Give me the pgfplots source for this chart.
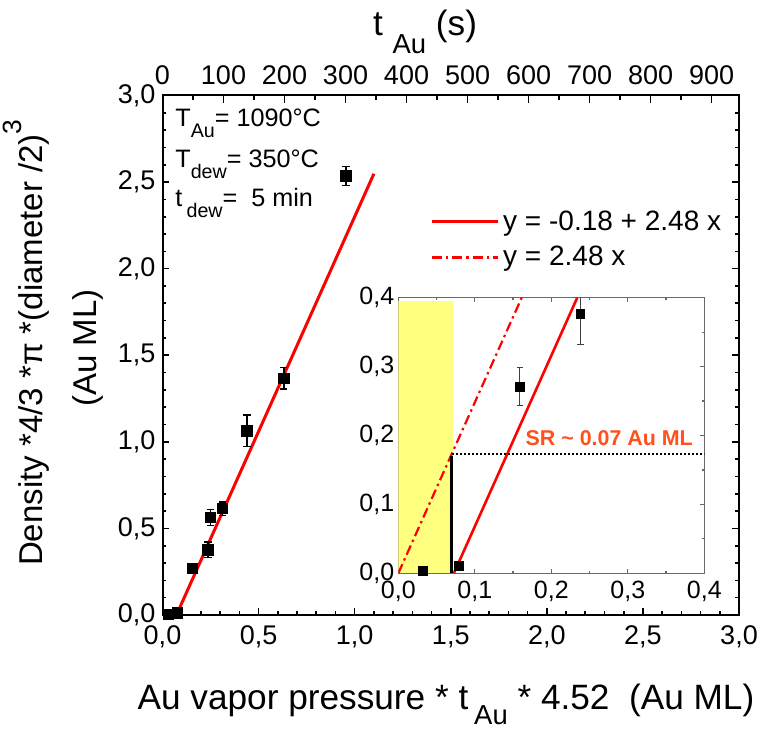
\documentclass[border=0pt]{standalone}
\usepackage{fontspec}
\setmainfont{Liberation Sans}
\usepackage{graphicx}
\usepackage{pgfplots}
\pgfplotsset{compat=1.18}
\definecolor{srcol}{RGB}{255,80,30}
\definecolor{yel}{RGB}{255,255,128}
\definecolor{insetgray}{RGB}{105,105,105}
\newcommand{\sub}[2][0.45em]{\raisebox{-#1}{\scalebox{0.78}{#2}}}
\pgfplotstableread{
x y e
0.032 0.004 0
0.079 0.011 0.006
0.157 0.270 0.027
0.237 0.377 0.045
0.249 0.562 0.046
0.313 0.614 0.039
0.440 1.064 0.091
0.631 1.367 0.062
0.955 2.535 0.054
}\maindata
\pgfplotstableread{
x y e
0.032 0.004 0
0.079 0.011 0.006
0.159 0.271 0.027
0.238 0.377 0.045
}\insetdata
\begin{document}
\begin{tikzpicture}
\useasboundingbox (-81.25pt,-59pt) rectangle (298.25pt,307.5pt);
% main axis
\begin{axis}[
  name=main,
  at={(0,0)}, anchor=south west,
  scale only axis, width=288.25pt, height=259.75pt,
  xmin=0, xmax=3, ymin=0, ymax=3,
  xtick={0,0.5,1,1.5,2,2.5,3}, ytick={0,0.5,1,1.5,2,2.5,3},
  minor x tick num=4, minor y tick num=4,
  tick align=inside,
  xtick pos=left, xticklabel pos=left,
  ytick pos=both, yticklabel pos=left,
  major tick length=3.5pt, minor tick length=1.8pt,
  axis line style={line width=1pt},
  every tick/.style={black, line width=0.8pt},
  tick label style={font=\fontsize{13.5}{15}\selectfont},
  xticklabel style={yshift=-1.8pt},
  /pgf/number format/use comma,
  /pgf/number format/fixed,
  /pgf/number format/fixed zerofill,
  /pgf/number format/precision=1,
  /pgf/number format/assume math mode=true,
  clip=false,
  legend style={at={(0.4637,0.787)}, anchor=north west, draw=none, fill=none,
    inner sep=0pt, font=\fontsize{14}{16}\selectfont, row sep=2.5pt,
    /tikz/every even column/.append style={column sep=5.5pt}},
  legend cell align=left,
  legend image code/.code={\draw[#1] (0pt,0pt) -- (33pt,0pt);},
]
\addplot[red, line width=1.5pt] coordinates {(0.0726,0) (1.1,2.548)};
\addlegendentry{y = -0.18 + 2.48 x}
\addlegendimage{red, line width=1.2pt, dash pattern=on 5pt off 2pt on 1.2pt off 2pt}
\addlegendentry{y = 2.48 x}
\addplot[forget plot, only marks, mark=square*, mark size=2.6pt, black,
  error bars/.cd, y dir=both, y explicit,
  error bar style={line width=0.75pt, black},
  error mark options={rotate=90, mark size=1.8pt, line width=0.75pt, black}]
  table[x=x, y=y, y error=e] {\maindata};
\end{axis}
% top axis
\begin{axis}[
  at={(0,0)}, anchor=south west,
  scale only axis, width=288.25pt, height=259.75pt,
  xmin=0, xmax=945, ymin=0, ymax=1,
  axis x line*=top, axis y line=none,
  xtick={0,100,200,300,400,500,600,700,800,900},
  minor x tick num=1,
  tick align=inside,
  major tick length=4pt, minor tick length=2.5pt,
  axis line style={line width=1pt},
  every tick/.style={black, line width=0.8pt},
  tick label style={font=\fontsize{13.5}{15}\selectfont},
  xticklabel style={yshift=1.8pt},
  /pgf/number format/fixed,
  /pgf/number format/precision=0,
  /pgf/number format/1000 sep={},
  /pgf/number format/assume math mode=true,
]
\addplot[draw=none, forget plot] coordinates {(0,0) (900,1)};
\end{axis}
% inset
\begin{axis}[
  at={(117.9pt,20.85pt)}, anchor=south west,
  scale only axis, width=153pt, height=137.8pt,
  xmin=0, xmax=0.4, ymin=0, ymax=0.4,
  xtick={0,0.1,0.2,0.3,0.4}, ytick={0,0.1,0.2,0.3,0.4},
  minor x tick num=1, minor y tick num=1,
  tick align=inside,
  xtick pos=both, ytick pos=both, xticklabel pos=left, yticklabel pos=left,
  major tick length=2.2pt, minor tick length=1.1pt,
  axis line style={insetgray, line width=0.75pt},
  every tick/.style={insetgray, line width=0.6pt},
  axis background/.style={fill=white},
  tick label style={font=\fontsize{12.5}{14}\selectfont},
  xticklabel style={yshift=-0.5pt},
  yticklabel style={xshift=1.5pt},
  /pgf/number format/use comma,
  /pgf/number format/fixed,
  /pgf/number format/fixed zerofill,
  /pgf/number format/precision=1,
  /pgf/number format/assume math mode=true,
]
\addplot[draw=none, fill=yel] coordinates {(0,0.395) (0.0711,0.395)} \closedcycle;
\addplot[red, line width=1.1pt, dash pattern=on 5pt off 2pt on 1.2pt off 2pt] coordinates {(0,0) (0.1613,0.4)};
\addplot[red, line width=1.3pt] coordinates {(0.0726,0) (0.2339,0.4)};
\addplot[black, line width=1.4pt] coordinates {(0.07,0) (0.07,0.17)};
\addplot[black, line width=0.9pt, dash pattern=on 0.9pt off 1.1pt] coordinates {(0.07,0.1736) (0.4,0.1736)};
\addplot[only marks, mark=square*, mark size=2.2pt, black,
  error bars/.cd, y dir=both, y explicit,
  error bar style={line width=0.5pt, black!75},
  error mark options={rotate=90, mark size=1.7pt, line width=0.5pt, black!75}]
  table[x=x, y=y, y error=e] {\insetdata};
\node[anchor=base west, font=\bfseries\fontsize{10.7}{12}\selectfont, text=srcol, inner sep=0pt]
  at (axis cs:0.166,0.186) {SR \textasciitilde\ 0.07 Au ML};
\end{axis}
% texts
\node[anchor=base west, font=\fontsize{12.6}{14}\selectfont, inner sep=0pt] at (6.25pt,244pt) {T\sub[0.43em]{Au}= 1090°C};
\node[anchor=base west, font=\fontsize{12.6}{14}\selectfont, inner sep=0pt] at (6.25pt,223.5pt) {T\sub[0.43em]{dew}= 350°C};
\node[anchor=base west, font=\fontsize{12.6}{14}\selectfont, inner sep=0pt] at (6.25pt,204pt) {t\,\sub[0.43em]{dew}=\ \ 5 min};
\node[anchor=base, font=\fontsize{17.6}{20}\selectfont, inner sep=0pt] at (131.25pt,289.5pt) {t \sub[0.5em]{Au} (s)};
\node[anchor=base, font=\fontsize{17.6}{20}\selectfont, inner sep=0pt] at (141.75pt,-47pt) {Au vapor pressure * t\,\sub[0.45em]{Au} * 4.52\ \ (Au ML)};
\node[anchor=base, rotate=90, font=\fontsize{16.5}{19}\selectfont, inner sep=0pt] at (-60.05pt,136.2pt) {Density *4/3 *π *(diameter /2)\raisebox{0.62em}{\scalebox{0.8}{3}}};
\node[anchor=base, rotate=90, font=\fontsize{16.5}{19}\selectfont, inner sep=0pt] at (-32.85pt,133.55pt) {(Au ML)};
\end{tikzpicture}
\end{document}
